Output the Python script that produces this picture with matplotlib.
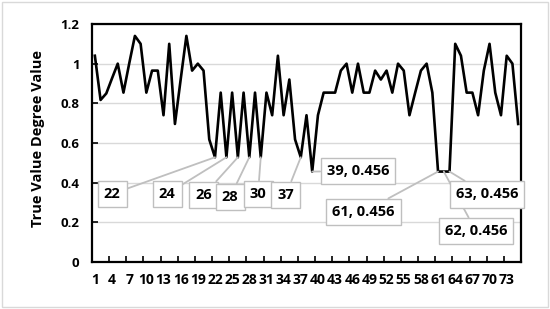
import numpy as np
import matplotlib
matplotlib.use("Agg")
import matplotlib.pyplot as plt
from matplotlib.patches import Rectangle

plt.rcParams['font.family'] = ['Open Sans', 'DejaVu Sans']
plt.rcParams['font.weight'] = 'bold'

# Datos de la serie (categorias 1..75)
categorias = np.arange(1, 76)
valores = [1.04, 0.817, 0.85, 0.926, 1.0, 0.854, 1.0, 1.14, 1.10, 0.854,
           0.965, 0.965, 0.74, 1.10, 0.696, 0.92, 1.14, 0.965, 1.0, 0.965,
           0.618, 0.528, 0.854, 0.528, 0.854, 0.528, 0.854, 0.528, 0.854, 0.528,
           0.854, 0.74, 1.04, 0.74, 0.92, 0.618, 0.528, 0.74, 0.456, 0.74,
           0.854, 0.854, 0.854, 0.965, 1.0, 0.854, 1.0, 0.854, 0.854, 0.965,
           0.92, 0.965, 0.854, 1.0, 0.965, 0.74, 0.854, 0.965, 1.0, 0.854,
           0.456, 0.456, 0.456, 1.10, 1.04, 0.854, 0.854, 0.74, 0.965, 1.10,
           0.854, 0.74, 1.04, 1.0, 0.696]

# Etiquetas de datos: categoria, texto
etiquetas_cat = [22, 24, 26, 28, 30, 37, 39, 61, 62, 63]
etiquetas_txt = ['22', '24', '26', '28', '30', '37',
                 '39, 0.456', '61, 0.456', '62, 0.456', '63, 0.456']
# posicion de cada caja (fraccion de ejes)
etiquetas_pos = [(0.047, 0.286), (0.175, 0.286), (0.261, 0.282), (0.322, 0.273),
                 (0.387, 0.286), (0.452, 0.282), (0.620, 0.382), (0.632, 0.210),
                 (0.895, 0.130), (0.921, 0.284)]

yticks = [0, 0.2, 0.4, 0.6, 0.8, 1.0, 1.2]
ytick_labels = ['0', '0.2', '0.4', '0.6', '0.8', '1', '1.2']

fig = plt.figure(figsize=(5.5, 3.09), dpi=100)
ax = fig.add_axes([92/550, 1-262/309, 429/550, 238/309])

ax.plot(categorias, valores, color='black', lw=1.9, zorder=3)

ax.set_xlim(0.5, 75.5)
ax.set_ylim(0, 1.2)

# Ejes y cuadricula
ax.set_yticks(yticks)
ax.set_yticklabels(ytick_labels)
ax.yaxis.grid(True, color='#d9d9d9', lw=1)
ax.set_axisbelow(True)
ax.set_xticks(np.arange(3.5, 75.5, 3))
ax.set_xticklabels([])
ax.set_xticks(categorias[::3], minor=True)
ax.set_xticklabels([str(c) for c in categorias[::3]], minor=True)
ax.tick_params(axis='x', which='major', direction='in', length=4, width=1.2, color='black')
ax.tick_params(axis='x', which='minor', length=0, pad=8, labelsize=10)
ax.tick_params(axis='y', direction='in', length=4, width=1.2, pad=9, labelsize=9.5)
for lab in ax.get_xticklabels(minor=True) + ax.get_yticklabels():
    lab.set_fontweight('bold')
for s in ax.spines.values():
    s.set_linewidth(1.6)
    s.set_color('black')

ax.set_ylabel('True Value Degree Value', fontsize=10.5, fontweight='bold')
ax.yaxis.set_label_coords(-0.11, 0.517)

# Etiquetas con lineas guia
for c, t, p in zip(etiquetas_cat, etiquetas_txt, etiquetas_pos):
    ax.annotate(t, xy=(c, valores[c-1]), xycoords='data',
                xytext=p, textcoords='axes fraction',
                ha='center', va='center', fontsize=10.5, fontweight='bold',
                bbox=dict(boxstyle='square,pad=0.42', fc='white', ec='#bfbfbf', lw=1),
                arrowprops=dict(arrowstyle='-', color='#bfbfbf', lw=1.3,
                                shrinkA=0, shrinkB=0),
                zorder=4)

# borde del area del grafico
fig.patches.append(Rectangle((0.004, 0.006), 0.992, 0.988, transform=fig.transFigure,
                             fill=False, ec='#d9d9d9', lw=1))

fig.savefig('out.png', dpi=100)
